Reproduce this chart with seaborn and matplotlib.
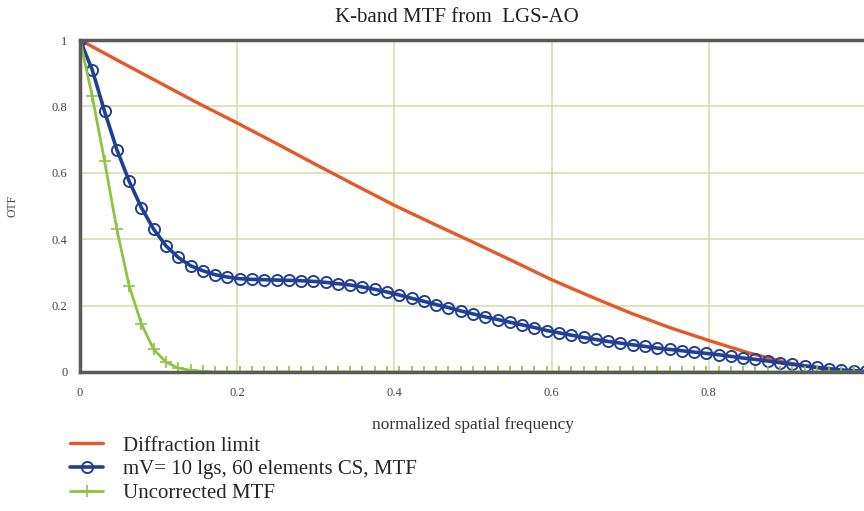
import numpy as np
import pandas as pd
import matplotlib
matplotlib.use("Agg")
import matplotlib.pyplot as plt
import seaborn as sns

# ---- data ----
freq_fine = [i / 64 for i in range(65)]
ao_mtf = [1.000, 0.910, 0.785, 0.670, 0.575, 0.495, 0.430, 0.380, 0.345, 0.320,
          0.305, 0.293, 0.286, 0.281, 0.279, 0.278, 0.277, 0.276, 0.275, 0.273,
          0.270, 0.266, 0.262, 0.256, 0.249, 0.241, 0.232, 0.222, 0.213, 0.203,
          0.194, 0.184, 0.175, 0.166, 0.158, 0.150, 0.142, 0.134, 0.125, 0.118,
          0.111, 0.104, 0.098, 0.092, 0.087, 0.082, 0.077, 0.072, 0.068, 0.064,
          0.060, 0.056, 0.052, 0.047, 0.042, 0.038, 0.033, 0.028, 0.023, 0.018,
          0.014, 0.010, 0.006, 0.004, 0.002]
uncorrected_mtf = [1.000, 0.830, 0.635, 0.430, 0.260, 0.145, 0.068, 0.030, 0.012, 0.005,
                   0.002] + [0.0] * 54
freq_coarse = [0.00, 0.05, 0.10, 0.15, 0.20, 0.25, 0.30, 0.35, 0.40, 0.45, 0.50,
               0.55, 0.60, 0.65, 0.70, 0.75, 0.80, 0.85, 0.90, 0.95, 1.00]
diffraction_mtf = [1.000, 0.936, 0.873, 0.810, 0.750, 0.688, 0.625, 0.563, 0.502, 0.446,
                   0.391, 0.335, 0.278, 0.227, 0.178, 0.134, 0.095, 0.058, 0.028, 0.008, 0.000]
x_ticks = [0, 0.2, 0.4, 0.6, 0.8]
x_tick_labels = ["0", "0.2", "0.4", "0.6", "0.8"]
y_ticks = [0, 0.2, 0.4, 0.6, 0.8, 1.0]
y_tick_labels = ["0", "0.2", "0.4", "0.6", "0.8", "1"]
labels = ["Diffraction limit", "mV= 10 lgs, 60 elements CS, MTF", "Uncorrected MTF"]

sns.set_style("white")
plt.rcParams['font.family'] = ['Liberation Serif', 'DejaVu Serif']

fig = plt.figure(figsize=(8.64, 5.11), dpi=100)
ax = fig.add_axes([80 / 864, 1 - 372 / 511, 786 / 864, 332 / 511])

red = "#e4582a"
blue = "#223f96"
green = "#8dc441"

df_d = pd.DataFrame({"f": freq_coarse, "v": diffraction_mtf})
df_a = pd.DataFrame({"f": freq_fine, "v": ao_mtf})
df_u = pd.DataFrame({"f": freq_fine, "v": uncorrected_mtf})

sns.lineplot(data=df_d, x="f", y="v", ax=ax, color=red, lw=2.4, label=labels[0])
sns.lineplot(data=df_a, x="f", y="v", ax=ax, color=blue, lw=2.6, marker="o",
             markersize=8, markerfacecolor="none", markeredgecolor=blue,
             markeredgewidth=1.4, label=labels[1])
sns.lineplot(data=df_u, x="f", y="v", ax=ax, color=green, lw=2.0, marker="+",
             markersize=9, markeredgewidth=1.2, markeredgecolor=green, label=labels[2])

ax.set_xlim(0, 1)
ax.set_ylim(0, 1)
ax.set_xticks(x_ticks)
ax.set_xticklabels(x_tick_labels)
ax.set_yticks(y_ticks)
ax.set_yticklabels(y_tick_labels)
ax.tick_params(axis="both", length=0, labelsize=9, colors="#444444")
ax.tick_params(axis="x", pad=11)
ax.tick_params(axis="y", pad=9)

ax.grid(True, color="#d2dda8", lw=1.1)
for side in ["top", "left", "bottom", "right"]:
    ax.spines[side].set_color("#5a5a5a")
    ax.spines[side].set_linewidth(2.5)

ax.set_xlabel("normalized spatial frequency", fontsize=12.5, color="#333333", labelpad=13)
ax.set_ylabel("OTF", fontsize=8.5, color="#444444")
ax.yaxis.label.set_verticalalignment("center")
ax.yaxis.set_label_coords(-0.0855, 0.5)
fig.text(457 / 864, 1 - 18 / 511, "K-band MTF from  LGS-AO", fontsize=15, color="#222222",
         ha="center", va="center")

handles, labs = ax.get_legend_handles_labels()
ax.get_legend().remove()
fig.legend(handles, labs, loc="upper left", bbox_to_anchor=(70 / 864, 1 - 436 / 511),
           frameon=False, fontsize=15, handlelength=1.6, labelspacing=0.2,
           handletextpad=0.95, borderaxespad=0, borderpad=0)

fig.savefig("out.png", dpi=100)
